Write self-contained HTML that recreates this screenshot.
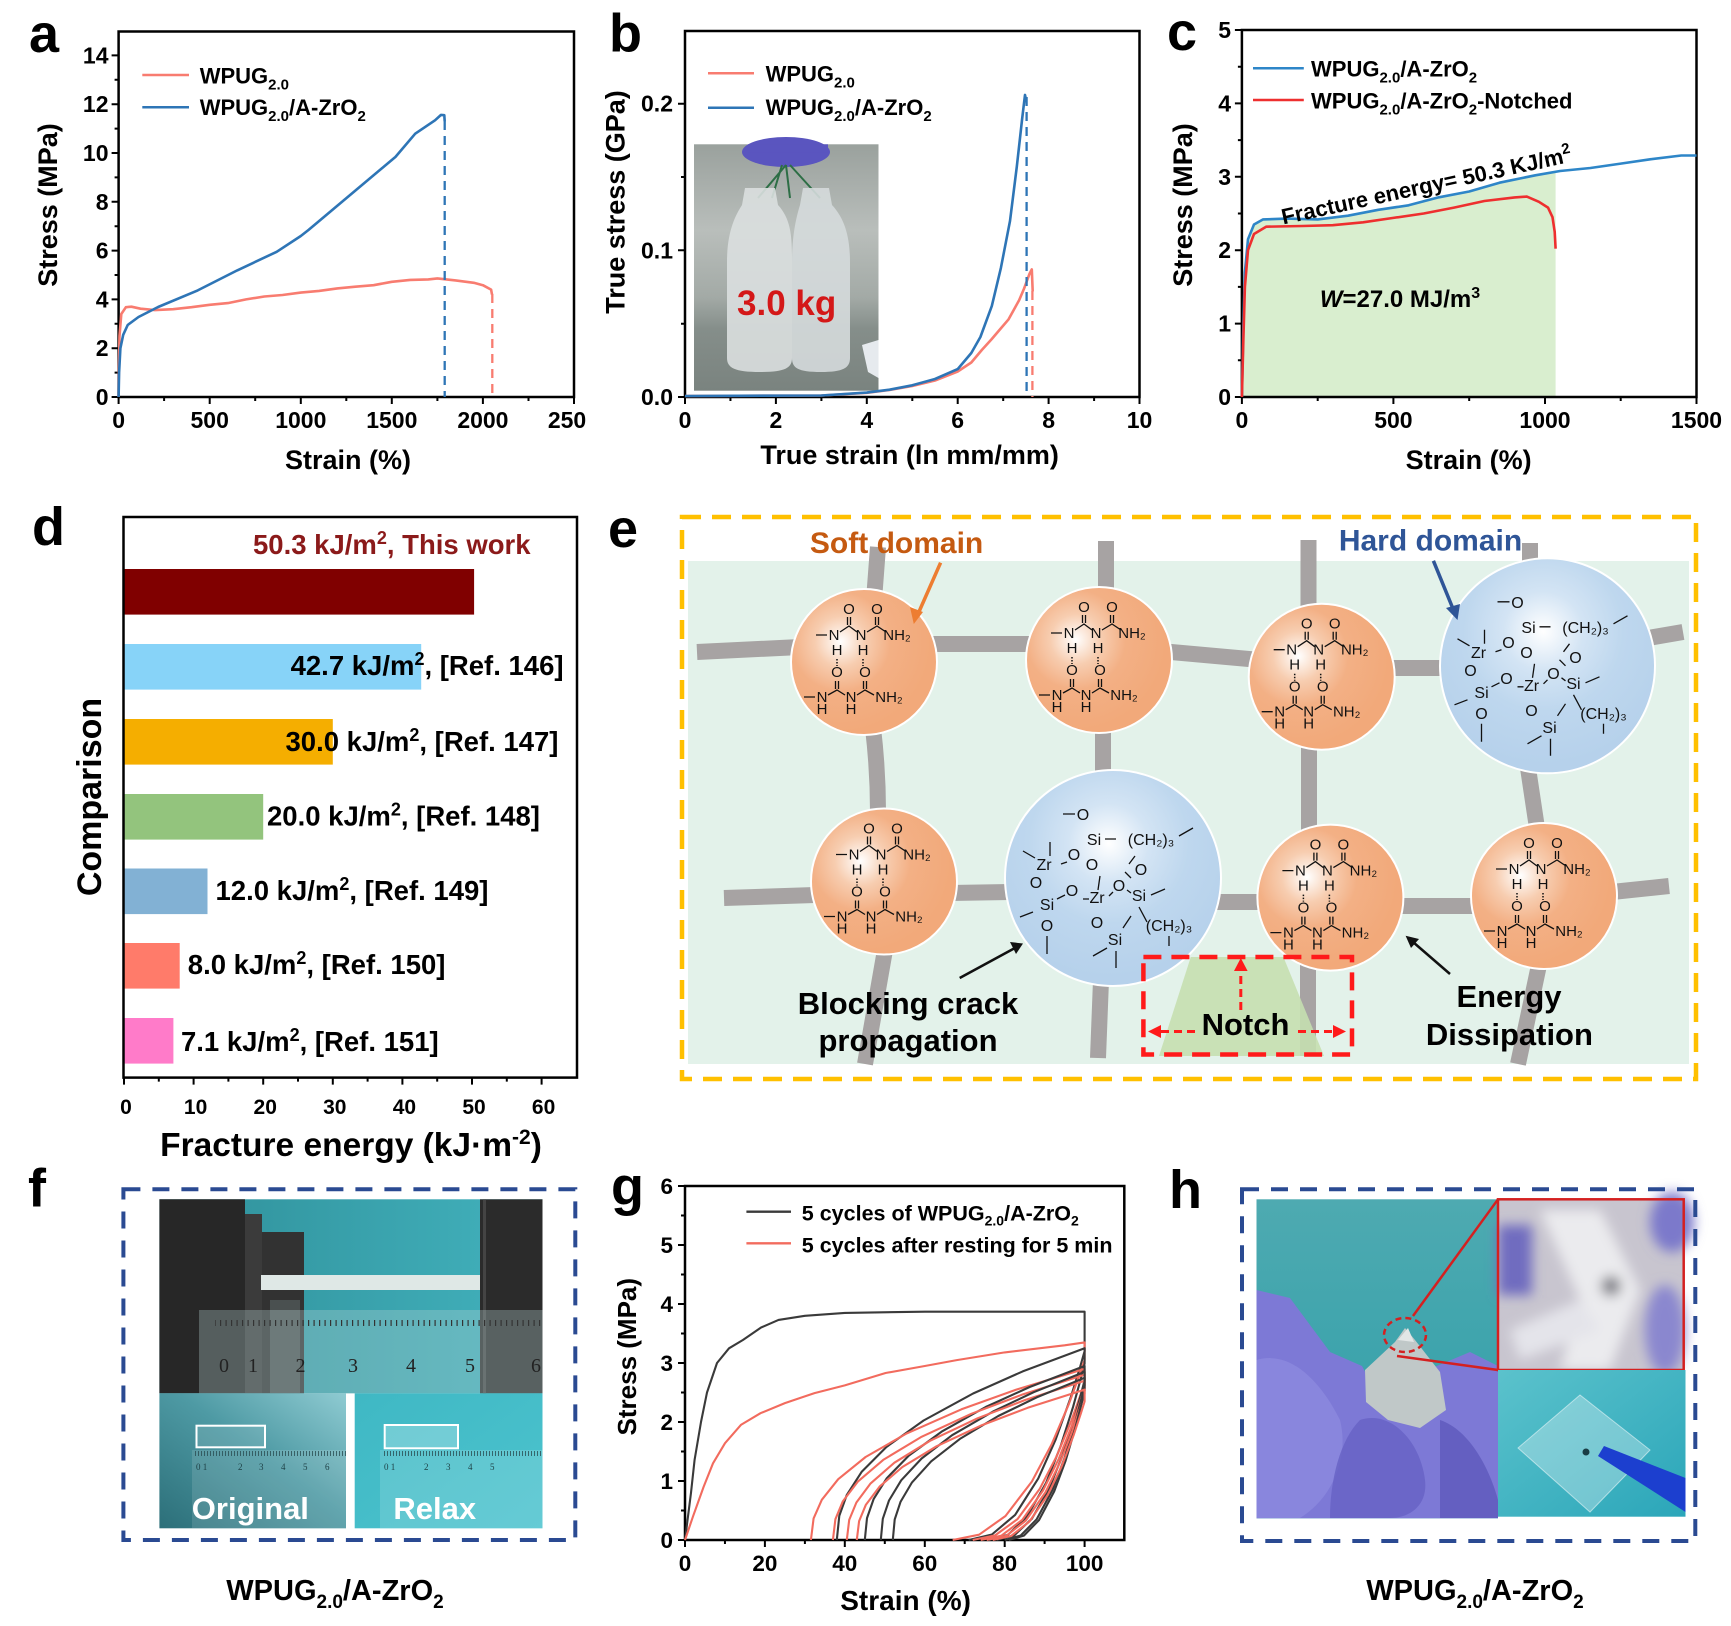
<!DOCTYPE html>
<html><head><meta charset="utf-8"><style>html,body{margin:0;padding:0;background:#fff}svg{display:block}</style></head>
<body>
<svg width="1731" height="1626" viewBox="0 0 1731 1626" xmlns="http://www.w3.org/2000/svg" font-family="'Liberation Sans', Arial, sans-serif" font-weight="bold">
<defs>
<radialGradient id="og" cx="0.34" cy="0.36" r="0.62"><stop offset="0" stop-color="#ffffff"/><stop offset="0.28" stop-color="#F7CDB0"/><stop offset="0.55" stop-color="#F3B085"/><stop offset="1" stop-color="#F2A97A"/></radialGradient>
<radialGradient id="bgr" cx="0.48" cy="0.34" r="0.62"><stop offset="0" stop-color="#ffffff"/><stop offset="0.3" stop-color="#D3E4F4"/><stop offset="0.6" stop-color="#BED7EE"/><stop offset="1" stop-color="#B6D1EB"/></radialGradient>
<linearGradient id="bph" x1="0" y1="0" x2="0" y2="1"><stop offset="0" stop-color="#9aa19d"/><stop offset="0.35" stop-color="#b9bebb"/><stop offset="0.62" stop-color="#a3aaa6"/><stop offset="0.75" stop-color="#858e8a"/><stop offset="1" stop-color="#7a837f"/></linearGradient>
<linearGradient id="ftop" x1="0" y1="0" x2="1" y2="0"><stop offset="0" stop-color="#2f8f99"/><stop offset="1" stop-color="#42b2bd"/></linearGradient>
<linearGradient id="fbl" x1="1" y1="0" x2="0" y2="1"><stop offset="0" stop-color="#8fcbd2"/><stop offset="0.45" stop-color="#4e9aa4"/><stop offset="1" stop-color="#2c6f79"/></linearGradient>
<linearGradient id="fbr" x1="0" y1="0" x2="1" y2="1"><stop offset="0" stop-color="#3fb8c4"/><stop offset="1" stop-color="#4cc3ce"/></linearGradient>
<linearGradient id="hl" x1="0" y1="0" x2="0" y2="1"><stop offset="0" stop-color="#4eaab1"/><stop offset="1" stop-color="#2d9ea8"/></linearGradient>
<linearGradient id="hbr" x1="0" y1="0" x2="1" y2="1"><stop offset="0" stop-color="#5bc2cc"/><stop offset="1" stop-color="#2ba6b9"/></linearGradient>
<pattern id="ruler" x="0" y="0" width="5.5" height="20" patternUnits="userSpaceOnUse"><rect x="0" y="0" width="1.2" height="12" fill="#333"/></pattern>
<pattern id="ruler2" x="0" y="0" width="3" height="10" patternUnits="userSpaceOnUse"><rect x="0" y="0" width="0.8" height="6" fill="#2a4d52"/></pattern>
<filter id="blur5"><feGaussianBlur stdDeviation="6"/></filter>
</defs>

<!-- ================= PANEL A ================= -->
<text x="29" y="52" font-size="54">a</text>
<rect x="118.6" y="31.5" width="455.4" height="365.5" fill="none" stroke="#000" stroke-width="2.5"/>
<path d="M111.6,397H118.6M111.6,348.2H118.6M111.6,299.4H118.6M111.6,250.6H118.6M111.6,201.8H118.6M111.6,153H118.6M111.6,104.2H118.6M111.6,55.4H118.6M114.6,372.6H118.6M114.6,323.8H118.6M114.6,275H118.6M114.6,226.2H118.6M114.6,177.4H118.6M114.6,128.6H118.6M114.6,79.8H118.6M118.6,397V404M209.7,397V404M300.8,397V404M391.8,397V404M482.9,397V404M574,397V404M164.1,397V401M255.2,397V401M346.3,397V401M437.4,397V401M528.5,397V401" stroke="#000" stroke-width="2"/>
<g font-size="23" text-anchor="end">
<text x="108.5" y="405">0</text><text x="108.5" y="356.2">2</text><text x="108.5" y="307.4">4</text><text x="108.5" y="258.6">6</text><text x="108.5" y="209.8">8</text><text x="108.5" y="161">10</text><text x="108.5" y="112.2">12</text><text x="108.5" y="63.4">14</text>
</g>
<g font-size="23" text-anchor="middle">
<text x="118.6" y="428">0</text><text x="209.7" y="428">500</text><text x="300.8" y="428">1000</text><text x="391.8" y="428">1500</text><text x="482.9" y="428">2000</text><text x="567" y="428">250</text>
</g>
<text transform="translate(57,205) rotate(-90)" text-anchor="middle" font-size="27">Stress (MPa)</text>
<text x="348" y="469" text-anchor="middle" font-size="27">Strain (%)</text>
<line x1="142.3" y1="75" x2="189" y2="75" stroke="#F87C70" stroke-width="2.5"/>
<text x="199.7" y="83.3" font-size="22">WPUG<tspan font-size="15" dy="6">2.0</tspan></text>
<line x1="142.3" y1="107.3" x2="189" y2="107.3" stroke="#2E75B6" stroke-width="2.5"/>
<text x="199.7" y="115" font-size="22">WPUG<tspan font-size="15" dy="6">2.0</tspan><tspan dy="-6">/A-ZrO</tspan><tspan font-size="15" dy="6">2</tspan></text>
<path d="M118.6,397 L118.8,372 L119.5,336 L121.3,314 L125.9,307.2 L131.4,306.7 L140.5,308.7 L155,310.1 L173.2,309.2 L191.5,307.2 L209.7,304.8 L227.9,303.1 L246.1,299.4 L264.3,296.5 L282.5,295 L300.8,292.6 L319,290.9 L337.2,288.4 L355.4,286.7 L373.6,285.2 L391.8,281.8 L410.1,279.9 L428.3,279.4 L437.4,278.4 L455.6,280.4 L473.8,282.8 L482.9,285.2 L491.1,289.6 L492,294.5" fill="none" stroke="#F87C70" stroke-width="2.6" stroke-linejoin="round"/>
<path d="M118.6,397 L119.1,372.6 L120.4,348.2 L123.2,334.8 L127.7,325 L138.5,317 L158.1,307 L197.7,290.4 L237.2,270.4 L276.7,251.8 L300.8,236 L308.6,229.9 L355.9,190.1 L395.5,156.9 L415.2,133.7 L435,120.3 L441,114.9 L444.3,115.2 L444.7,121.3" fill="none" stroke="#2E75B6" stroke-width="2.6" stroke-linejoin="round"/>
<path d="M444.7,121V397" stroke="#2E75B6" stroke-width="2.3" stroke-dasharray="9 6"/>
<path d="M492.3,294V397" stroke="#F87C70" stroke-width="2.3" stroke-dasharray="9 6"/>

<!-- ================= PANEL B ================= -->
<text x="609" y="51.5" font-size="54">b</text>
<rect x="694" y="144.3" width="184.5" height="246.4" fill="url(#bph)"/>
<ellipse cx="786" cy="152" rx="44" ry="15" fill="#5a55bf"/>
<rect x="748" y="144.3" width="80" height="8" fill="#5a55bf"/>
<path d="M786,165 L758,198 M786,165 L790,198 M790,165 L820,198 M782,165 L772,198" stroke="#2d6e45" stroke-width="2"/>
<path d="M745,188 L775,188 L778,205 C792,220 792,240 792,262 L792,358 C792,368 785,372 760,372 C735,372 727,368 727,358 L727,262 C727,232 735,216 742,205 Z" fill="#dadfdf" opacity="0.9"/>
<path d="M803,188 L829,188 L832,205 C846,220 850,240 850,262 L850,358 C850,368 843,372 821,372 C798,372 792,368 792,358 L792,262 C792,236 796,218 800,205 Z" fill="#d5dadb" opacity="0.9"/>
<path d="M862,345 L878.5,340 L878.5,378 L868,372 Z" fill="#e6eaee"/>
<text x="737" y="315" font-size="35" fill="#D41818">3.0 kg</text>
<rect x="685" y="31" width="454.5" height="366" fill="none" stroke="#000" stroke-width="2.5"/>
<path d="M678,397H685M678,250.3H685M678,103.7H685M681,323.7H685M681,177H685M685,397V404M775.9,397V404M866.8,397V404M957.7,397V404M1048.6,397V404M1139.5,397V404M730.45,397V401M821.4,397V401M912.3,397V401M1003.2,397V401M1094.1,397V401" stroke="#000" stroke-width="2"/>
<g font-size="23" text-anchor="end">
<text x="673" y="405">0.0</text><text x="673" y="258.3">0.1</text><text x="673" y="111.7">0.2</text>
</g>
<g font-size="23" text-anchor="middle">
<text x="685" y="428">0</text><text x="775.9" y="428">2</text><text x="866.8" y="428">4</text><text x="957.7" y="428">6</text><text x="1048.6" y="428">8</text><text x="1139.5" y="428">10</text>
</g>
<text transform="translate(624.5,202) rotate(-90)" text-anchor="middle" font-size="27">True stress (GPa)</text>
<text x="909.6" y="464" text-anchor="middle" font-size="27">True strain (ln mm/mm)</text>
<line x1="708" y1="73.3" x2="754" y2="73.3" stroke="#F87C70" stroke-width="2.5"/>
<text x="765.6" y="81.7" font-size="22">WPUG<tspan font-size="15" dy="6">2.0</tspan></text>
<line x1="708" y1="107.7" x2="754" y2="107.7" stroke="#2E75B6" stroke-width="2.5"/>
<text x="765.6" y="115" font-size="22">WPUG<tspan font-size="15" dy="6">2.0</tspan><tspan dy="-6">/A-ZrO</tspan><tspan font-size="15" dy="6">2</tspan></text>
<path d="M685,396 L821.4,395.5 L866.8,392.8 L889.5,390 L912.3,386 L935,380.5 L957.7,371.5 L971.3,362.5 L981.8,350 L991.8,339 L998.6,331 L1008.6,319.3 L1019.1,300.2 L1024.1,288.5 L1029.5,273.8 L1031.8,269.4 L1032.7,291.4" fill="none" stroke="#F87C70" stroke-width="2.6" stroke-linejoin="round"/>
<path d="M685,396 L821.4,395.5 L866.8,392.6 L889.5,389.7 L912.3,385.3 L935,379 L957.7,369.1 L971.3,353 L980.4,337 L991.8,306.1 L1000.9,267.9 L1010,221 L1016.8,166.7 L1022.2,118.3 L1025,94.9 L1026,100" fill="none" stroke="#2E75B6" stroke-width="2.6" stroke-linejoin="round"/>
<path d="M1026.6,97V397" stroke="#2E75B6" stroke-width="2.3" stroke-dasharray="9 6"/>
<path d="M1032.4,291V397" stroke="#F87C70" stroke-width="2.3" stroke-dasharray="9 6"/>

<!-- ================= PANEL C ================= -->
<text x="1167" y="50" font-size="54">c</text>
<path d="M1241.9,397 L1243.4,323.6 L1244.9,272.2 L1248,239.2 L1254,224.5 L1263.1,219.4 L1287.4,218.6 L1317.7,219.4 L1348,215.7 L1378.3,209.8 L1408.6,205.3 L1438.9,197.3 L1469.2,191.5 L1499.5,182.7 L1535.3,175.3 L1555.6,172 L1555.6,397 Z" fill="#D9EECF"/>
<rect x="1241.9" y="30" width="454.6" height="367" fill="none" stroke="#000" stroke-width="2.5"/>
<path d="M1234.9,397H1241.9M1234.9,323.6H1241.9M1234.9,250.2H1241.9M1234.9,176.8H1241.9M1234.9,103.4H1241.9M1234.9,30H1241.9M1237.9,360.3H1241.9M1237.9,286.9H1241.9M1237.9,213.5H1241.9M1237.9,140.1H1241.9M1237.9,66.7H1241.9M1241.9,397V404M1393.4,397V404M1545,397V404M1696.5,397V404M1317.7,397V401M1469.2,397V401M1620.7,397V401" stroke="#000" stroke-width="2"/>
<g font-size="23" text-anchor="end">
<text x="1231" y="405">0</text><text x="1231" y="331.6">1</text><text x="1231" y="258.2">2</text><text x="1231" y="184.8">3</text><text x="1231" y="111.4">4</text><text x="1231" y="38">5</text>
</g>
<g font-size="23" text-anchor="middle">
<text x="1241.9" y="428">0</text><text x="1393.4" y="428">500</text><text x="1545" y="428">1000</text><text x="1696.5" y="428">1500</text>
</g>
<text transform="translate(1192,205) rotate(-90)" text-anchor="middle" font-size="27">Stress (MPa)</text>
<text x="1468.6" y="469" text-anchor="middle" font-size="27">Strain (%)</text>
<line x1="1253" y1="68.3" x2="1303.8" y2="68.3" stroke="#2E86C8" stroke-width="2.5"/>
<text x="1311" y="76.7" font-size="22">WPUG<tspan font-size="15" dy="6">2.0</tspan><tspan dy="-6">/A-ZrO</tspan><tspan font-size="15" dy="6">2</tspan></text>
<line x1="1253" y1="100" x2="1303.8" y2="100" stroke="#EE2F2F" stroke-width="2.5"/>
<text x="1311" y="108.3" font-size="22">WPUG<tspan font-size="15" dy="6">2.0</tspan><tspan dy="-6">/A-ZrO</tspan><tspan font-size="15" dy="6">2</tspan><tspan dy="-6">-Notched</tspan></text>
<path d="M1241.9,397 L1243.4,323.6 L1244.9,272.2 L1248,239.2 L1254,224.5 L1263.1,219.4 L1287.4,218.6 L1317.7,219.4 L1348,215.7 L1378.3,209.8 L1408.6,205.3 L1438.9,197.3 L1469.2,191.5 L1499.5,182.7 L1535.3,175.3 L1560.1,171 L1590.4,168 L1620.7,163.6 L1651,159.2 L1681.3,155.5 L1696.5,155.5" fill="none" stroke="#2E86C8" stroke-width="2.6" stroke-linejoin="round"/>
<path d="M1241.9,397 L1243.4,338.3 L1244.9,286.9 L1248,250.2 L1254,234 L1266.1,226.7 L1302.5,226 L1332.8,225.2 L1363.1,222.3 L1393.4,217.9 L1423.7,213.5 L1454,207.6 L1484.4,201 L1514.7,197.4 L1526.8,196.6 L1538.9,201.8 L1548,207.6 L1552.5,217.2 L1554.7,231.8 L1555.6,248.7" fill="none" stroke="#EE2F2F" stroke-width="2.6" stroke-linejoin="round"/>
<text transform="translate(1428,193) rotate(-12.3)" text-anchor="middle" font-size="22">Fracture energy= 50.3 KJ/m<tspan font-size="15" dy="-9">2</tspan></text>
<text x="1400" y="307" text-anchor="middle" font-size="24"><tspan font-style="italic">W</tspan>=27.0 MJ/m<tspan font-size="16" dy="-9">3</tspan></text>

<!-- ================= PANEL D ================= -->
<text x="32" y="545" font-size="54">d</text>
<rect x="124" y="569" width="350.1" height="45.6" fill="#800000"/>
<rect x="124" y="644" width="297.2" height="45.6" fill="#87D3F8"/>
<rect x="124" y="719" width="208.8" height="45.6" fill="#F5AE00"/>
<rect x="124" y="794" width="139.2" height="45.6" fill="#93C47D"/>
<rect x="124" y="868.5" width="83.5" height="45.6" fill="#82B1D4"/>
<rect x="124" y="943" width="55.7" height="45.6" fill="#FF7B6A"/>
<rect x="124" y="1018" width="49.4" height="45.6" fill="#FF7BC9"/>
<rect x="123.5" y="517" width="453.5" height="560.6" fill="none" stroke="#000" stroke-width="2.5"/>
<path d="M124,1077.6V1084.6M193.6,1077.6V1084.6M263.2,1077.6V1084.6M332.8,1077.6V1084.6M402.4,1077.6V1084.6M472,1077.6V1084.6M541.6,1077.6V1084.6M158.8,1077.6V1081.6M228.4,1077.6V1081.6M298,1077.6V1081.6M367.6,1077.6V1081.6M437.2,1077.6V1081.6M506.8,1077.6V1081.6" stroke="#000" stroke-width="2"/>
<g font-size="21" text-anchor="middle">
<text x="126" y="1114">0</text><text x="195.6" y="1114">10</text><text x="265.2" y="1114">20</text><text x="334.8" y="1114">30</text><text x="404.4" y="1114">40</text><text x="474" y="1114">50</text><text x="543.6" y="1114">60</text>
</g>
<g font-size="27.5">
<text x="253" y="554" fill="#8B1A1A">50.3 kJ/m<tspan font-size="18" dy="-10">2</tspan><tspan dy="10">, This work</tspan></text>
<text x="290.6" y="675">42.7 kJ/m<tspan font-size="18" dy="-10">2</tspan><tspan dy="10">, [Ref. 146]</tspan></text>
<text x="285.5" y="751">30.0 kJ/m<tspan font-size="18" dy="-10">2</tspan><tspan dy="10">, [Ref. 147]</tspan></text>
<text x="267" y="825.5">20.0 kJ/m<tspan font-size="18" dy="-10">2</tspan><tspan dy="10">, [Ref. 148]</tspan></text>
<text x="215.5" y="900">12.0 kJ/m<tspan font-size="18" dy="-10">2</tspan><tspan dy="10">,  [Ref. 149]</tspan></text>
<text x="187.8" y="974">8.0 kJ/m<tspan font-size="18" dy="-10">2</tspan><tspan dy="10">, [Ref. 150]</tspan></text>
<text x="181" y="1051">7.1 kJ/m<tspan font-size="18" dy="-10">2</tspan><tspan dy="10">,  [Ref. 151]</tspan></text>
</g>
<text transform="translate(101,797) rotate(-90)" text-anchor="middle" font-size="34">Comparison</text>
<text x="351" y="1156" text-anchor="middle" font-size="33.5">Fracture energy (kJ·m<tspan font-size="21" dy="-12">-2</tspan><tspan dy="12">)</tspan></text>

<!-- ================= PANEL E ================= -->
<text x="608" y="547" font-size="54">e</text>
<rect x="688" y="561" width="1001" height="503" fill="#E3F2EA"/>
<g stroke="#A7A3A3" stroke-width="16" fill="none">
<path d="M697,652 L800,647"/>
<path d="M878,547 L874,600"/>
<path d="M925,644 L1040,644"/>
<path d="M1106,541 L1106,595"/>
<path d="M1160,651 L1260,660"/>
<path d="M1308.5,540 L1308.5,610"/>
<path d="M1385,668 L1448,668"/>
<path d="M1530,543 L1530,565"/>
<path d="M1648,638 L1683,632"/>
<path d="M873,728 Q878,770 878,812"/>
<path d="M1103,728 L1103,778"/>
<path d="M1309,745 L1309,830"/>
<path d="M1528,768 L1537,828"/>
<path d="M724,898 L815,895"/>
<path d="M950,893 L1010,892"/>
<path d="M1215,902 L1262,902"/>
<path d="M1398,906 L1476,906"/>
<path d="M1612,892 L1669,886"/>
<path d="M885,950 L865,1064"/>
<path d="M1101,980 L1098,1058"/>
<path d="M1308,965 L1308,1056"/>
<path d="M1539,965 L1518,1064"/>
</g>
<g stroke="#fff" stroke-width="2">
<circle cx="864" cy="662" r="73" fill="url(#og)"/>
<circle cx="1099" cy="660" r="73" fill="url(#og)"/>
<circle cx="1321.7" cy="676.7" r="73" fill="url(#og)"/>
<circle cx="884" cy="881.5" r="73" fill="url(#og)"/>
<circle cx="1330.4" cy="897.6" r="73" fill="url(#og)"/>
<circle cx="1544" cy="896" r="73" fill="url(#og)"/>
<circle cx="1113" cy="878" r="108" fill="url(#bgr)"/>
<circle cx="1547.5" cy="665.8" r="107.5" fill="url(#bgr)"/>
</g>
<g font-size="15" font-weight="normal" fill="#111" text-anchor="middle">
<g transform="translate(864,662)">
<text x="-15" y="-48">O</text><text x="13" y="-48">O</text><text x="-30" y="-22">N</text><text x="-3" y="-22">N</text><text x="33" y="-22">NH₂</text><text x="-27" y="-7">H</text><text x="-1" y="-7">H</text><text x="-27" y="15">O</text><text x="1" y="15">O</text><text x="-42" y="40">N</text><text x="-13" y="40">N</text><text x="25" y="40">NH₂</text><text x="-42" y="52">H</text><text x="-13" y="52">H</text>
<path d="M-48,-27H-37M-24,-30L-15,-36L-7,-30M3,-30L13,-36L22,-30M-16.5,-37V-45M-13.5,-37V-45M11.5,-37V-45M14.5,-37V-45M-60,35H-49M-36,33L-27,28L-19,33M-7,33L1,28L10,33M-28.5,19V27M-25.5,19V27M-0.5,19V27M2.5,19V27" stroke="#111" stroke-width="1.3" fill="none"/>
<path d="M-27,-3V4M-1,-3V4" stroke="#111" stroke-width="1.5" stroke-dasharray="1.5 1.5"/>
</g>
<g transform="translate(1099,660)">
<text x="-15" y="-48">O</text><text x="13" y="-48">O</text><text x="-30" y="-22">N</text><text x="-3" y="-22">N</text><text x="33" y="-22">NH₂</text><text x="-27" y="-7">H</text><text x="-1" y="-7">H</text><text x="-27" y="15">O</text><text x="1" y="15">O</text><text x="-42" y="40">N</text><text x="-13" y="40">N</text><text x="25" y="40">NH₂</text><text x="-42" y="52">H</text><text x="-13" y="52">H</text>
<path d="M-48,-27H-37M-24,-30L-15,-36L-7,-30M3,-30L13,-36L22,-30M-16.5,-37V-45M-13.5,-37V-45M11.5,-37V-45M14.5,-37V-45M-60,35H-49M-36,33L-27,28L-19,33M-7,33L1,28L10,33M-28.5,19V27M-25.5,19V27M-0.5,19V27M2.5,19V27" stroke="#111" stroke-width="1.3" fill="none"/>
<path d="M-27,-3V4M-1,-3V4" stroke="#111" stroke-width="1.5" stroke-dasharray="1.5 1.5"/>
</g>
<g transform="translate(1321.7,676.7)">
<text x="-15" y="-48">O</text><text x="13" y="-48">O</text><text x="-30" y="-22">N</text><text x="-3" y="-22">N</text><text x="33" y="-22">NH₂</text><text x="-27" y="-7">H</text><text x="-1" y="-7">H</text><text x="-27" y="15">O</text><text x="1" y="15">O</text><text x="-42" y="40">N</text><text x="-13" y="40">N</text><text x="25" y="40">NH₂</text><text x="-42" y="52">H</text><text x="-13" y="52">H</text>
<path d="M-48,-27H-37M-24,-30L-15,-36L-7,-30M3,-30L13,-36L22,-30M-16.5,-37V-45M-13.5,-37V-45M11.5,-37V-45M14.5,-37V-45M-60,35H-49M-36,33L-27,28L-19,33M-7,33L1,28L10,33M-28.5,19V27M-25.5,19V27M-0.5,19V27M2.5,19V27" stroke="#111" stroke-width="1.3" fill="none"/>
<path d="M-27,-3V4M-1,-3V4" stroke="#111" stroke-width="1.5" stroke-dasharray="1.5 1.5"/>
</g>
<g transform="translate(884,881.5)">
<text x="-15" y="-48">O</text><text x="13" y="-48">O</text><text x="-30" y="-22">N</text><text x="-3" y="-22">N</text><text x="33" y="-22">NH₂</text><text x="-27" y="-7">H</text><text x="-1" y="-7">H</text><text x="-27" y="15">O</text><text x="1" y="15">O</text><text x="-42" y="40">N</text><text x="-13" y="40">N</text><text x="25" y="40">NH₂</text><text x="-42" y="52">H</text><text x="-13" y="52">H</text>
<path d="M-48,-27H-37M-24,-30L-15,-36L-7,-30M3,-30L13,-36L22,-30M-16.5,-37V-45M-13.5,-37V-45M11.5,-37V-45M14.5,-37V-45M-60,35H-49M-36,33L-27,28L-19,33M-7,33L1,28L10,33M-28.5,19V27M-25.5,19V27M-0.5,19V27M2.5,19V27" stroke="#111" stroke-width="1.3" fill="none"/>
<path d="M-27,-3V4M-1,-3V4" stroke="#111" stroke-width="1.5" stroke-dasharray="1.5 1.5"/>
</g>
<g transform="translate(1330.4,897.6)">
<text x="-15" y="-48">O</text><text x="13" y="-48">O</text><text x="-30" y="-22">N</text><text x="-3" y="-22">N</text><text x="33" y="-22">NH₂</text><text x="-27" y="-7">H</text><text x="-1" y="-7">H</text><text x="-27" y="15">O</text><text x="1" y="15">O</text><text x="-42" y="40">N</text><text x="-13" y="40">N</text><text x="25" y="40">NH₂</text><text x="-42" y="52">H</text><text x="-13" y="52">H</text>
<path d="M-48,-27H-37M-24,-30L-15,-36L-7,-30M3,-30L13,-36L22,-30M-16.5,-37V-45M-13.5,-37V-45M11.5,-37V-45M14.5,-37V-45M-60,35H-49M-36,33L-27,28L-19,33M-7,33L1,28L10,33M-28.5,19V27M-25.5,19V27M-0.5,19V27M2.5,19V27" stroke="#111" stroke-width="1.3" fill="none"/>
<path d="M-27,-3V4M-1,-3V4" stroke="#111" stroke-width="1.5" stroke-dasharray="1.5 1.5"/>
</g>
<g transform="translate(1544,896)">
<text x="-15" y="-48">O</text><text x="13" y="-48">O</text><text x="-30" y="-22">N</text><text x="-3" y="-22">N</text><text x="33" y="-22">NH₂</text><text x="-27" y="-7">H</text><text x="-1" y="-7">H</text><text x="-27" y="15">O</text><text x="1" y="15">O</text><text x="-42" y="40">N</text><text x="-13" y="40">N</text><text x="25" y="40">NH₂</text><text x="-42" y="52">H</text><text x="-13" y="52">H</text>
<path d="M-48,-27H-37M-24,-30L-15,-36L-7,-30M3,-30L13,-36L22,-30M-16.5,-37V-45M-13.5,-37V-45M11.5,-37V-45M14.5,-37V-45M-60,35H-49M-36,33L-27,28L-19,33M-7,33L1,28L10,33M-28.5,19V27M-25.5,19V27M-0.5,19V27M2.5,19V27" stroke="#111" stroke-width="1.3" fill="none"/>
<path d="M-27,-3V4M-1,-3V4" stroke="#111" stroke-width="1.5" stroke-dasharray="1.5 1.5"/>
</g>
</g>
<g font-size="16" font-weight="normal" fill="#111" text-anchor="middle">
<g transform="translate(1113,878)">
<text x="-30" y="-58">O</text><text x="-19" y="-33">Si</text><text x="38" y="-33">(CH₂)₃</text><text x="-69" y="-8">Zr</text><text x="-39" y="-18">O</text><text x="-21" y="-8">O</text><text x="28" y="-3">O</text><text x="-77" y="10">O</text><text x="-41" y="18">O</text><text x="-16" y="25">Zr</text><text x="6" y="13">O</text><text x="26" y="23">Si</text><text x="-66" y="32">Si</text><text x="56" y="53">(CH₂)₃</text><text x="-16" y="50">O</text><text x="-66" y="53">O</text><text x="2" y="67">Si</text>
<path d="M-50,-64H-38M-8,-39H3M66,-42L80,-50M-78,-20L-90,-27M-63,-22V-36M-66,58V76M-80,34L-93,39M38,17L52,11M26,29L34,44M56,58V68M3,73V90M-6,70L-20,78M10,50L18,38M-13,-2L-15,12M16,-14L22,-22M18,0L12,-6M-52,-14L-46,-16M-56,21L-48,17M-30,21L-24,21M-4,18L0,14M14,12L18,15" stroke="#111" stroke-width="1.3" fill="none"/>
</g>
<g transform="translate(1547.5,665.8)">
<text x="-30" y="-58">O</text><text x="-19" y="-33">Si</text><text x="38" y="-33">(CH₂)₃</text><text x="-69" y="-8">Zr</text><text x="-39" y="-18">O</text><text x="-21" y="-8">O</text><text x="28" y="-3">O</text><text x="-77" y="10">O</text><text x="-41" y="18">O</text><text x="-16" y="25">Zr</text><text x="6" y="13">O</text><text x="26" y="23">Si</text><text x="-66" y="32">Si</text><text x="56" y="53">(CH₂)₃</text><text x="-16" y="50">O</text><text x="-66" y="53">O</text><text x="2" y="67">Si</text>
<path d="M-50,-64H-38M-8,-39H3M66,-42L80,-50M-78,-20L-90,-27M-63,-22V-36M-66,58V76M-80,34L-93,39M38,17L52,11M26,29L34,44M56,58V68M3,73V90M-6,70L-20,78M10,50L18,38M-13,-2L-15,12M16,-14L22,-22M18,0L12,-6M-52,-14L-46,-16M-56,21L-48,17M-30,21L-24,21M-4,18L0,14M14,12L18,15" stroke="#111" stroke-width="1.3" fill="none"/>
</g>
</g>
<polygon points="1190.8,957 1283.4,957 1324,1056 1159,1056" fill="#C5DFB0" opacity="0.9"/>
<rect x="1143.4" y="957" width="208.6" height="97.5" fill="none" stroke="#FF1A1A" stroke-width="4.5" stroke-dasharray="18 10"/>
<g stroke="#FF1A1A" stroke-width="3" stroke-dasharray="8 5" fill="none">
<path d="M1240.8,1010V968"/>
<path d="M1195,1031.5H1158"/>
<path d="M1298,1031.5H1336"/>
</g>
<g fill="#FF1A1A">
<polygon points="1240.8,958 1234,971 1247.6,971"/>
<polygon points="1148,1031.5 1161,1025 1161,1038"/>
<polygon points="1346,1031.5 1333,1025 1333,1038"/>
</g>
<text x="1245.5" y="1035" text-anchor="middle" font-size="31">Notch</text>
<text x="896.6" y="553" text-anchor="middle" font-size="30" fill="#C55A11">Soft domain</text>
<text x="1430.5" y="550.5" text-anchor="middle" font-size="30" fill="#2F5597">Hard domain</text>
<path d="M940.6,562.7 L918,614" stroke="#ED7D31" stroke-width="3.5"/>
<polygon points="913.8,624 910,607 923,612" fill="#ED7D31"/>
<path d="M1433.4,560.8 L1453.5,610" stroke="#2F5597" stroke-width="3.5"/>
<polygon points="1457.5,620 1446,608 1460,604" fill="#2F5597"/>
<path d="M959.7,978 L1014,948.5" stroke="#111" stroke-width="2.5"/>
<polygon points="1023,943.5 1010,942 1016,954" fill="#111"/>
<path d="M1450,974 L1413,942" stroke="#111" stroke-width="2.5"/>
<polygon points="1405.6,935.8 1411,948 1419,939" fill="#111"/>
<text x="908" y="1014" text-anchor="middle" font-size="31">Blocking crack</text>
<text x="908" y="1051" text-anchor="middle" font-size="31">propagation</text>
<text x="1509" y="1007" text-anchor="middle" font-size="31">Energy</text>
<text x="1509.4" y="1045" text-anchor="middle" font-size="31">Dissipation</text>
<rect x="682" y="517" width="1014" height="562" fill="none" stroke="#FFC000" stroke-width="4.5" stroke-dasharray="19 11"/>

<!-- ================= PANEL F ================= -->
<text x="28" y="1206.7" font-size="54">f</text>
<rect x="159.4" y="1199.3" width="383.1" height="194" fill="url(#ftop)"/>
<polygon points="159.4,1199.3 245,1199.3 245,1393.3 159.4,1393.3" fill="#272727"/>
<rect x="245" y="1214" width="17" height="179.3" fill="#3b3b3b"/>
<rect x="262" y="1232" width="42" height="161.3" fill="#323232"/>
<rect x="270" y="1300" width="30" height="93" fill="#4a5050"/>
<rect x="480" y="1199.3" width="62.5" height="194" fill="#2b2b2b"/>
<rect x="483" y="1199.3" width="3" height="194" fill="#444"/>
<rect x="261" y="1275" width="219" height="15" fill="#dfe8e6"/>
<rect x="199" y="1310" width="343.5" height="83.3" fill="#b8d3d4" opacity="0.32"/>
<rect x="215" y="1312" width="327" height="14" fill="url(#ruler)"/>
<g font-family="'Liberation Serif', serif" font-size="20" font-weight="normal" fill="#222" text-anchor="middle">
<text x="224" y="1372">0</text><text x="253" y="1372">1</text><text x="300.5" y="1372">2</text><text x="353" y="1372">3</text><text x="411" y="1372">4</text><text x="470" y="1372">5</text><text x="536" y="1372">6</text>
</g>
<rect x="159.4" y="1393.3" width="186.6" height="135" fill="url(#fbl)"/>
<rect x="192" y="1450" width="154" height="78" fill="#ffffff" opacity="0.12"/>
<rect x="195" y="1451" width="151" height="8" fill="url(#ruler2)"/>
<g font-family="'Liberation Serif', serif" font-size="9" font-weight="normal" fill="#1d3f44">
<text x="196" y="1470">0 1</text><text x="238" y="1470">2</text><text x="259" y="1470">3</text><text x="281" y="1470">4</text><text x="303" y="1470">5</text><text x="325" y="1470">6</text>
</g>
<rect x="196.5" y="1425.7" width="68.5" height="21.6" fill="#ffffff" fill-opacity="0.12" stroke="#fff" stroke-width="2"/>
<text x="191.8" y="1519" font-size="31" fill="#ffffff">Original</text>
<rect x="354.7" y="1393.3" width="187.8" height="135" fill="url(#fbr)"/>
<rect x="380" y="1450" width="162.5" height="78" fill="#ffffff" opacity="0.14"/>
<rect x="382" y="1451" width="160" height="8" fill="url(#ruler2)"/>
<g font-family="'Liberation Serif', serif" font-size="9" font-weight="normal" fill="#1d3f44">
<text x="384" y="1470">0 1</text><text x="424" y="1470">2</text><text x="446" y="1470">3</text><text x="468" y="1470">4</text><text x="490" y="1470">5</text>
</g>
<rect x="384.7" y="1425" width="73.3" height="23.3" fill="#ffffff" fill-opacity="0.25" stroke="#fff" stroke-width="2"/>
<text x="393.4" y="1519" font-size="31" fill="#ffffff">Relax</text>
<rect x="123.4" y="1189.3" width="451.9" height="350.7" fill="none" stroke="#2A4A92" stroke-width="4" stroke-dasharray="17 12"/>
<text x="335" y="1600" text-anchor="middle" font-size="29">WPUG<tspan font-size="19" dy="8">2.0</tspan><tspan dy="-8">/A-ZrO</tspan><tspan font-size="19" dy="8">2</tspan></text>

<!-- ================= PANEL G ================= -->
<text x="611" y="1205" font-size="54">g</text>
<rect x="685" y="1186" width="439.3" height="354" fill="none" stroke="#000" stroke-width="2.5"/>
<path d="M678,1540H685M678,1481H685M678,1422H685M678,1363H685M678,1304H685M678,1245H685M678,1186H685M681,1510.5H685M681,1451.5H685M681,1392.5H685M681,1333.5H685M681,1274.5H685M681,1215.5H685M685,1540V1547M764.9,1540V1547M844.8,1540V1547M924.8,1540V1547M1004.7,1540V1547M1084.6,1540V1547M724.96,1540V1544M804.9,1540V1544M884.8,1540V1544M964.7,1540V1544M1044.6,1540V1544" stroke="#000" stroke-width="2"/>
<g font-size="22.5" text-anchor="end">
<text x="673" y="1548">0</text><text x="673" y="1489">1</text><text x="673" y="1430">2</text><text x="673" y="1371">3</text><text x="673" y="1312">4</text><text x="673" y="1253">5</text><text x="673" y="1194">6</text>
</g>
<g font-size="22.5" text-anchor="middle">
<text x="685" y="1571">0</text><text x="764.9" y="1571">20</text><text x="844.8" y="1571">40</text><text x="924.8" y="1571">60</text><text x="1004.7" y="1571">80</text><text x="1084.6" y="1571">100</text>
</g>
<text transform="translate(636,1356.7) rotate(-90)" text-anchor="middle" font-size="26">Stress (MPa)</text>
<text x="905.6" y="1610" text-anchor="middle" font-size="28">Strain (%)</text>
<line x1="746.4" y1="1211.7" x2="791" y2="1211.7" stroke="#3a3a3a" stroke-width="2.3"/>
<text x="801.8" y="1220.5" font-size="21.5">5 cycles of WPUG<tspan font-size="14" dy="5">2.0</tspan><tspan dy="-5">/A-ZrO</tspan><tspan font-size="14" dy="5">2</tspan></text>
<line x1="746.4" y1="1243.3" x2="791" y2="1243.3" stroke="#F26B5E" stroke-width="2.3"/>
<text x="801.8" y="1252.5" font-size="21.5">5 cycles after resting for 5 min</text>
<g fill="none" stroke-width="2.1" stroke-linejoin="round">
<path stroke="#3a3a3a" d="M685,1540 L691,1492.8 L694.6,1459.8 L701,1422 L707,1392.5 L717,1363 L729,1348.3 L742.9,1340 L760.9,1327.6 L778.5,1319.9 L804.9,1315.8 L844.8,1312.9 L924.8,1311.7 L1084.6,1311.7 L1084.6,1351.2 L1080,1367.4 L1070.7,1397.5 L1055.6,1439.7 L1038.2,1478.6 L1015.1,1514.9 L991.9,1534.5 L968.7,1540"/>
<path stroke="#F26B5E" d="M685,1540 L693,1516.4 L703.6,1486.9 L713,1463.3 L725,1443.2 L740.9,1424.9 L760.5,1413.2 L784.9,1403.1 L814.5,1393.1 L844.8,1385.4 L885.6,1373 L924.8,1366 L956.7,1360.1 L1004.7,1352.4 L1064.6,1345.3 L1084.6,1342.4 L1084.6,1360 L1079.3,1375.5 L1068.8,1404.2 L1051.6,1444.4 L1031.9,1481.5 L1005.5,1516 L979.1,1534.7 L952.7,1540"/>
<path stroke="#3a3a3a" d="M836.8,1540 L839.3,1515.8 L846.8,1494.9 L861.6,1471.9 L886.4,1447 L923.6,1420.5 L973.1,1393.5 L1022.7,1371.4 L1084.6,1348.25 L1084.6,1363.6 L1080.8,1378.7 L1073.1,1406.8 L1060.6,1446.3 L1046.2,1482.6 L1027.1,1516.5 L1007.9,1534.9 L988.7,1540"/>
<path stroke="#F26B5E" d="M810.9,1540 L813.6,1518.4 L821.8,1499.8 L838.2,1479.2 L865.6,1457 L906.8,1433.4 L961.5,1409.3 L1016.3,1389.6 L1084.6,1368.9 L1084.6,1382.5 L1080.1,1396 L1071.2,1421.1 L1056.6,1456.3 L1039.8,1488.7 L1017.5,1519.1 L995.1,1535.4 L972.7,1540"/>
<path stroke="#3a3a3a" d="M864.8,1540 L867,1518.1 L873.6,1499.1 L886.8,1478.2 L908.8,1455.6 L941.7,1431.6 L985.7,1407 L1029.7,1387 L1084.6,1366 L1084.6,1380.1 L1081.1,1393.9 L1074.1,1419.3 L1062.6,1455.1 L1049.4,1488 L1031.9,1518.7 L1014.3,1535.3 L996.7,1540"/>
<path stroke="#F26B5E" d="M832.9,1540 L835.4,1519.2 L842.9,1501.2 L858,1481.4 L883.2,1459.9 L921,1437.1 L971.3,1413.8 L1021.7,1394.8 L1084.6,1374.8 L1084.6,1387.8 L1080.4,1400.9 L1072.1,1425.1 L1058.6,1459.2 L1043,1490.5 L1022.3,1519.8 L1001.5,1535.6 L980.7,1540"/>
<path stroke="#3a3a3a" d="M880.8,1540 L882.8,1518.8 L889,1500.5 L901.2,1480.3 L921.6,1458.5 L952.1,1435.2 L992.9,1411.6 L1033.7,1392.2 L1084.6,1371.9 L1084.6,1385.4 L1081.4,1398.7 L1075,1423.3 L1064.6,1457.9 L1052.6,1489.7 L1036.6,1519.4 L1020.7,1535.5 L1004.7,1540"/>
<path stroke="#F26B5E" d="M846.8,1540 L849.2,1519.9 L856.4,1502.5 L870.6,1483.4 L894.4,1462.7 L930,1440.8 L977.5,1418.3 L1025.1,1400 L1084.6,1380.7 L1084.6,1393.7 L1080.7,1406.3 L1072.9,1429.6 L1060.1,1462.3 L1045.4,1492.4 L1025.9,1520.5 L1006.3,1535.8 L986.7,1540"/>
<path stroke="#3a3a3a" d="M892.8,1540 L894.7,1519.5 L900.5,1501.9 L912,1482.4 L931.2,1461.3 L959.9,1438.9 L998.3,1416 L1036.6,1397.4 L1084.6,1377.8 L1084.6,1390.7 L1081.6,1403.5 L1075.5,1427.3 L1065.6,1460.7 L1054.2,1491.4 L1039,1520.1 L1023.9,1535.6 L1008.7,1540"/>
<path stroke="#F26B5E" d="M856.8,1540 L859.1,1521.1 L865.9,1504.7 L879.6,1486.6 L902.4,1467 L936.5,1446.3 L982.1,1425.1 L1027.7,1407.8 L1084.6,1389.6 L1084.6,1401.4 L1080.9,1413.3 L1073.6,1435.3 L1061.6,1466.4 L1047.8,1494.9 L1029.5,1521.5 L1011.1,1536 L992.7,1540"/>
</g>

<!-- ================= PANEL H ================= -->
<text x="1169" y="1208" font-size="54">h</text>
<rect x="1256.5" y="1199.3" width="241.5" height="319" fill="url(#hl)"/>
<path d="M1256.5,1290 L1290,1298 L1330,1352 L1362,1366 L1380,1400 L1410,1396 L1432,1368 L1470,1352 L1498,1366 L1498,1518.3 L1256.5,1518.3 Z" fill="#7d79d6"/>
<path d="M1256.5,1360 C1290,1350 1320,1380 1340,1420 C1350,1460 1330,1500 1300,1518 L1256.5,1518 Z" fill="#8f8be0" opacity="0.7"/>
<path d="M1360,1420 C1390,1410 1420,1440 1425,1480 C1428,1505 1410,1518 1390,1518 L1330,1518 C1330,1480 1340,1440 1360,1420 Z" fill="#6661c4" opacity="0.8"/>
<path d="M1440,1420 C1470,1430 1490,1470 1498,1500 L1498,1518 L1440,1518 Z" fill="#5e59bb" opacity="0.8"/>
<path d="M1365,1370 L1395,1342 L1405,1328 L1415,1340 L1440,1372 L1446,1410 L1420,1428 L1388,1420 L1366,1402 Z" fill="#c0c8c8"/>
<path d="M1398,1340 L1408,1328 L1414,1342 Z" fill="#e2e6e6"/>
<ellipse cx="1405" cy="1335" rx="21" ry="17" fill="none" stroke="#d42020" stroke-width="2.5" stroke-dasharray="6 4"/>
<path d="M1413,1316 L1498,1199.3 M1397,1356 L1498,1370" stroke="#d42020" stroke-width="2.5"/>
<rect x="1498" y="1199.3" width="185.7" height="170.7" fill="#c8c5cf"/>
<g filter="url(#blur5)">
<ellipse cx="1672" cy="1222" rx="22" ry="30" fill="#7c79cb"/>
<rect x="1498" y="1225" width="34" height="70" fill="#6f6cbf"/>
<ellipse cx="1665" cy="1330" rx="20" ry="45" fill="#8a87cf"/>
<path d="M1540,1210 L1600,1210 L1640,1290 L1610,1370 L1560,1370 L1580,1300 Z" fill="#ebebee"/>
<path d="M1510,1330 L1580,1300 L1600,1330 L1520,1360 Z" fill="#e4e4ea"/>
<circle cx="1611" cy="1286" r="10" fill="#7d7d84"/>
</g>
<rect x="1498" y="1199.3" width="185.7" height="170.7" fill="none" stroke="#d42020" stroke-width="2.5"/>
<rect x="1498" y="1370" width="187.5" height="146.7" fill="url(#hbr)"/>
<polygon points="1518,1448 1580,1395 1650,1450 1590,1512" fill="#ffffff" fill-opacity="0.3" stroke="#e8f6f8" stroke-opacity="0.6" stroke-width="1"/>
<circle cx="1586" cy="1452" r="3.5" fill="#1a3d45"/>
<polygon points="1604,1446 1685.5,1478 1685.5,1512 1598,1456" fill="#1c3fcf"/>
<rect x="1242" y="1189.3" width="453.3" height="351.7" fill="none" stroke="#2A4A92" stroke-width="4" stroke-dasharray="17 12"/>
<text x="1475" y="1600" text-anchor="middle" font-size="29">WPUG<tspan font-size="19" dy="8">2.0</tspan><tspan dy="-8">/A-ZrO</tspan><tspan font-size="19" dy="8">2</tspan></text>
</svg>
</body></html>
